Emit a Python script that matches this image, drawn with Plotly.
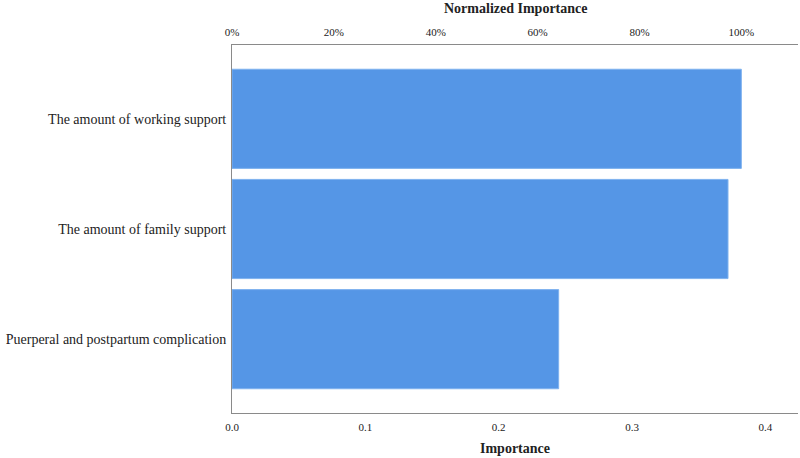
import plotly.graph_objects as go

# Predictor importance
predictors = [
    "The amount of working support",
    "The amount of family support",
    "Puerperal and postpartum complication",
]
importance = [0.382, 0.372, 0.245]

max_imp = max(importance)
normalized = [v / max_imp * 100 for v in importance]

x_max = 0.4245
serif = "Liberation Serif, Times New Roman, serif"

fig = go.Figure()

fig.add_trace(go.Bar(
    y=predictors,
    x=importance,
    orientation="h",
    marker=dict(color="#5596e6", line=dict(color="#7fb2ef", width=1)),
    xaxis="x",
    yaxis="y",
    hoverinfo="x+y",
))

# invisible trace to drive the top (normalized) axis
fig.add_trace(go.Scatter(
    y=predictors,
    x=normalized,
    mode="markers",
    marker=dict(opacity=0),
    xaxis="x2",
    yaxis="y",
    hoverinfo="skip",
    showlegend=False,
))

axis_common = dict(
    showgrid=False,
    zeroline=False,
    showline=True,
    linecolor="#8a8a8a",
    linewidth=1,
    ticks="",
    automargin=False,
)

fig.update_layout(
    width=800,
    height=458,
    margin=dict(l=232, r=2, t=45, b=45),
    plot_bgcolor="white",
    paper_bgcolor="white",
    showlegend=False,
    bargap=0.1,
    font=dict(family=serif, color="#222222"),
    xaxis=dict(
        range=[0, x_max],
        tickvals=[0, 0.1, 0.2, 0.3, 0.4],
        ticktext=["0.0", "0.1", "0.2", "0.3", "0.4"],
        tickfont=dict(size=11),
        ticklabelstandoff=4,
        **axis_common,
    ),
    xaxis2=dict(
        range=[0, x_max / max_imp * 100],
        overlaying="x",
        side="top",
        tickvals=[0, 20, 40, 60, 80, 100],
        ticktext=["0%", "20%", "40%", "60%", "80%", "100%"],
        tickfont=dict(size=11),
        ticklabelstandoff=4,
        **axis_common,
    ),
    yaxis=dict(
        autorange=False,
        range=[2.67, -0.67],
        tickfont=dict(size=14),
        ticklabelstandoff=2,
        **axis_common,
    ),
    annotations=[
        dict(text="<b>Importance</b>", xref="paper", yref="paper",
             x=0.5, y=0, yshift=-35, yanchor="middle", showarrow=False,
             font=dict(size=14)),
        dict(text="<b>Normalized Importance</b>", xref="paper", yref="paper",
             x=0.5, y=1, yshift=37, yanchor="middle", showarrow=False,
             font=dict(size=14)),
    ],
)

fig.write_html("out.html", config={"displayModeBar": False},
               post_script="document.body.style.margin='0';")
